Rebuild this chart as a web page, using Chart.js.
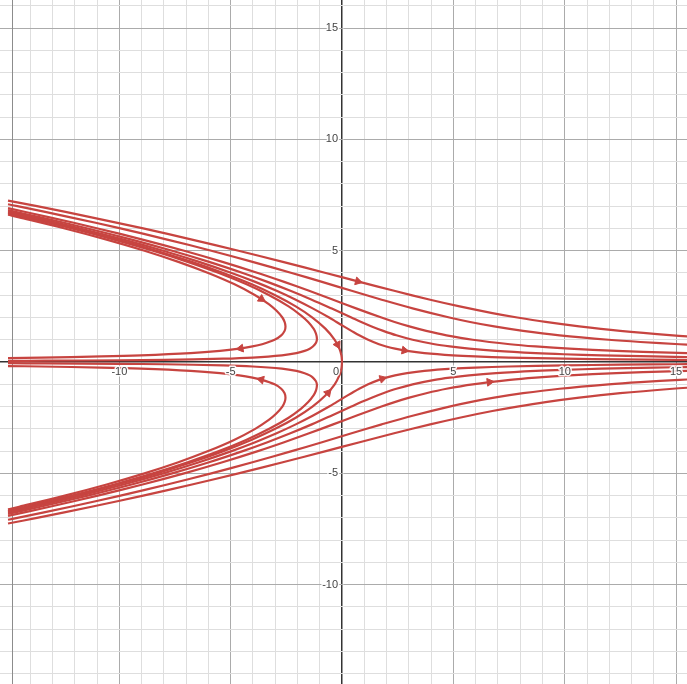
<!DOCTYPE html>
<html>
<head>
<meta charset="utf-8">
<title>Phase portrait</title>
<script src="https://cdn.jsdelivr.net/npm/chart.js@4.4.1/dist/chart.umd.min.js"></script>
<style>
    html, body { margin: 0; padding: 0; background: #fff; }
    #wrap { width: 687px; height: 684px; position: relative; }
</style>
</head>
<body>
<div id="wrap"><canvas id="phaseChart"></canvas></div>
<script>
'use strict';

// tick labels shown along the axes
var xTickLabels = [-10, -5, 0, 5, 10, 15];
var yTickLabels = [15, 10, 5, -5, -10];

// trajectories above the x axis that leave to the right, [x, y]
var upperRight1 = [[16.32,1.1],[14.85,1.2],[12.49,1.4],[10.65,1.6],[9.14,1.8],[7.87,2.0],[6.75,2.2],[5.28,2.5],[3.96,2.8],[2.34,3.2],[0.79,3.6],[-0.73,4.0],[-2.66,4.5],[-4.65,5.0],[-6.74,5.5],[-8.93,6.0],[-11.25,6.5],[-13.70,7.0],[-15,7.25]];
var upperRight2 = [[16.21,0.75],[15.16,0.8],[13.40,0.9],[11.97,1.0],[9.77,1.2],[8.13,1.4],[6.83,1.6],[5.75,1.8],[4.82,2.0],[3.21,2.4],[1.78,2.8],[0.43,3.2],[-0.90,3.6],[-2.26,4.0],[-4.02,4.5],[-5.87,5.0],[-7.85,5.5],[-9.95,6.0],[-12.19,6.5],[-14.58,7.0],[-15,7.085]];
var upperRight3 = [[16.27,0.38],[14.70,0.42],[12.32,0.5],[10.21,0.6],[8.69,0.7],[7.54,0.8],[5.87,1.0],[4.69,1.2],[3.78,1.4],[3.02,1.6],[2.36,1.8],[1.77,2.0],[0.66,2.4],[-0.40,2.8],[-1.48,3.2],[-2.60,3.6],[-3.78,4.0],[-5.37,4.5],[-7.09,5.0],[-8.96,5.5],[-10.97,6.0],[-13.13,6.5],[-15,6.91]];
var upperRight4 = [[15.89,0.22],[13.98,0.25],[11.64,0.3],[9.96,0.35],[8.70,0.4],[6.92,0.5],[5.71,0.6],[4.84,0.7],[4.16,0.8],[3.17,1.0],[2.44,1.2],[1.85,1.4],[1.33,1.6],[0.86,1.8],[0.42,2.0],[-0.46,2.4],[-1.36,2.8],[-2.32,3.2],[-3.35,3.6],[-4.46,4.0],[-5.97,4.5],[-7.63,5.0],[-9.45,5.5],[-11.42,6.0],[-13.55,6.5],[-15,6.82]];
var upperRight5 = [[16.66,0.09],[15.0,0.1],[12.5,0.12],[9.99,0.15],[7.49,0.2],[5.98,0.25],[4.97,0.3],[3.70,0.4],[2.92,0.5],[2.38,0.6],[1.98,0.7],[1.66,0.8],[1.17,1.0],[0.77,1.2],[0.42,1.4],[0.08,1.6],[-0.25,1.8],[-0.58,2.0],[-1.30,2.4],[-2.08,2.8],[-2.94,3.2],[-3.90,3.6],[-4.96,4.0],[-6.42,4.5],[-8.03,5.0],[-9.81,5.5],[-11.75,6.0],[-13.85,6.5],[-15,6.76]];

// trajectories above the x axis that turn back to the left
var upperTurn1 = [[0,0],[-0.03,0.3],[-0.12,0.6],[-0.33,1.0],[-0.75,1.5],[-1.33,2.0],[-2.08,2.5],[-3.0,3.0],[-4.08,3.5],[-5.33,4.0],[-6.75,4.5],[-8.33,5.0],[-10.08,5.5],[-12.0,6.0],[-14.08,6.5],[-15,6.71]];
var upperTurn2 = [[-15,0.053],[-13.33,0.06],[-10.0,0.08],[-8.0,0.1],[-5.34,0.15],[-4.01,0.2],[-2.70,0.3],[-2.05,0.4],[-1.68,0.5],[-1.45,0.6],[-1.31,0.7],[-1.18,0.85],[-1.13,1.0],[-1.14,1.15],[-1.18,1.3],[-1.28,1.5],[-1.52,1.8],[-1.85,2.1],[-2.40,2.5],[-3.27,3.0],[-4.31,3.5],[-5.53,4.0],[-6.93,4.5],[-8.49,5.0],[-10.23,5.5],[-12.13,6.0],[-14.21,6.5],[-15,6.68]];
var upperTurn3 = [[-15,0.18],[-13.51,0.2],[-10.82,0.25],[-9.03,0.3],[-6.80,0.4],[-5.48,0.5],[-4.62,0.6],[-4.02,0.7],[-3.59,0.8],[-3.03,1.0],[-2.73,1.2],[-2.58,1.4],[-2.54,1.6],[-2.58,1.8],[-2.68,2.0],[-2.94,2.3],[-3.29,2.6],[-3.90,3.0],[-4.85,3.5],[-6.01,4.0],[-7.35,4.5],[-8.87,5.0],[-10.57,5.5],[-12.45,6.0],[-14.50,6.5],[-15,6.615]];

// trajectories below the x axis that leave to the right
var lowerRight1 = [[16.32,-1.1],[14.85,-1.2],[12.49,-1.4],[10.65,-1.6],[9.14,-1.8],[7.87,-2.0],[6.75,-2.2],[5.28,-2.5],[3.96,-2.8],[2.34,-3.2],[0.79,-3.6],[-0.73,-4.0],[-2.66,-4.5],[-4.65,-5.0],[-6.74,-5.5],[-8.93,-6.0],[-11.25,-6.5],[-13.70,-7.0],[-15,-7.25]];
var lowerRight2 = [[16.21,-0.75],[15.16,-0.8],[13.40,-0.9],[11.97,-1.0],[9.77,-1.2],[8.13,-1.4],[6.83,-1.6],[5.75,-1.8],[4.82,-2.0],[3.21,-2.4],[1.78,-2.8],[0.43,-3.2],[-0.90,-3.6],[-2.26,-4.0],[-4.02,-4.5],[-5.87,-5.0],[-7.85,-5.5],[-9.95,-6.0],[-12.19,-6.5],[-14.58,-7.0],[-15,-7.085]];
var lowerRight3 = [[16.27,-0.38],[14.70,-0.42],[12.32,-0.5],[10.21,-0.6],[8.69,-0.7],[7.54,-0.8],[5.87,-1.0],[4.69,-1.2],[3.78,-1.4],[3.02,-1.6],[2.36,-1.8],[1.77,-2.0],[0.66,-2.4],[-0.40,-2.8],[-1.48,-3.2],[-2.60,-3.6],[-3.78,-4.0],[-5.37,-4.5],[-7.09,-5.0],[-8.96,-5.5],[-10.97,-6.0],[-13.13,-6.5],[-15,-6.91]];
var lowerRight4 = [[15.89,-0.22],[13.98,-0.25],[11.64,-0.3],[9.96,-0.35],[8.70,-0.4],[6.92,-0.5],[5.71,-0.6],[4.84,-0.7],[4.16,-0.8],[3.17,-1.0],[2.44,-1.2],[1.85,-1.4],[1.33,-1.6],[0.86,-1.8],[0.42,-2.0],[-0.46,-2.4],[-1.36,-2.8],[-2.32,-3.2],[-3.35,-3.6],[-4.46,-4.0],[-5.97,-4.5],[-7.63,-5.0],[-9.45,-5.5],[-11.42,-6.0],[-13.55,-6.5],[-15,-6.82]];
var lowerRight5 = [[16.66,-0.09],[15.0,-0.1],[12.5,-0.12],[9.99,-0.15],[7.49,-0.2],[5.98,-0.25],[4.97,-0.3],[3.70,-0.4],[2.92,-0.5],[2.38,-0.6],[1.98,-0.7],[1.66,-0.8],[1.17,-1.0],[0.77,-1.2],[0.42,-1.4],[0.08,-1.6],[-0.25,-1.8],[-0.58,-2.0],[-1.30,-2.4],[-2.08,-2.8],[-2.94,-3.2],[-3.90,-3.6],[-4.96,-4.0],[-6.42,-4.5],[-8.03,-5.0],[-9.81,-5.5],[-11.75,-6.0],[-13.85,-6.5],[-15,-6.76]];

// trajectories below the x axis that turn back to the left
var lowerTurn1 = [[0,0],[-0.03,-0.3],[-0.12,-0.6],[-0.33,-1.0],[-0.75,-1.5],[-1.33,-2.0],[-2.08,-2.5],[-3.0,-3.0],[-4.08,-3.5],[-5.33,-4.0],[-6.75,-4.5],[-8.33,-5.0],[-10.08,-5.5],[-12.0,-6.0],[-14.08,-6.5],[-15,-6.71]];
var lowerTurn2 = [[-15,-0.053],[-13.33,-0.06],[-10.0,-0.08],[-8.0,-0.1],[-5.34,-0.15],[-4.01,-0.2],[-2.70,-0.3],[-2.05,-0.4],[-1.68,-0.5],[-1.45,-0.6],[-1.31,-0.7],[-1.18,-0.85],[-1.13,-1.0],[-1.14,-1.15],[-1.18,-1.3],[-1.28,-1.5],[-1.52,-1.8],[-1.85,-2.1],[-2.40,-2.5],[-3.27,-3.0],[-4.31,-3.5],[-5.53,-4.0],[-6.93,-4.5],[-8.49,-5.0],[-10.23,-5.5],[-12.13,-6.0],[-14.21,-6.5],[-15,-6.68]];
var lowerTurn3 = [[-15,-0.18],[-13.51,-0.2],[-10.82,-0.25],[-9.03,-0.3],[-6.80,-0.4],[-5.48,-0.5],[-4.62,-0.6],[-4.02,-0.7],[-3.59,-0.8],[-3.03,-1.0],[-2.73,-1.2],[-2.58,-1.4],[-2.54,-1.6],[-2.58,-1.8],[-2.68,-2.0],[-2.94,-2.3],[-3.29,-2.6],[-3.90,-3.0],[-4.85,-3.5],[-6.01,-4.0],[-7.35,-4.5],[-8.87,-5.0],[-10.57,-5.5],[-12.45,-6.0],[-14.50,-6.5],[-15,-6.615]];

// direction arrows: [x, y, dx, dy]
var arrowMarks = [
    [0.71, 3.62, 3.81, -1],
    [2.8, 0.52, 5.9, -1],
    [-0.2, 0.78, 0.52, -1],
    [-3.62, 2.83, 1.55, -1],
    [-4.55, 0.61, -6.38, -1],
    [-3.63, -0.79, -4.16, 1],
    [-0.63, -1.38, 0.88, 1],
    [1.81, -0.75, 3.38, 1],
    [6.62, -0.9, 8.25, 1]
];

// dark frame line near the left edge of the graph paper
var frameEdgeX = -14.81;

var curveRed = '#c74440';
var minorGrid = '#dedede';
var majorGrid = '#ababab';
var axisColor = '#333333';

var allCurves = [
    upperRight1, upperRight2, upperRight3, upperRight4, upperRight5,
    upperTurn1, upperTurn2, upperTurn3,
    lowerRight1, lowerRight2, lowerRight3, lowerRight4, lowerRight5,
    lowerTurn1, lowerTurn2, lowerTurn3
];

function toPoints(arr) {
    return arr.map(function (p) { return {x: p[0], y: p[1]}; });
}

var datasets = allCurves.map(function (c) {
    return {
        data: toPoints(c),
        showLine: true,
        borderColor: curveRed,
        borderWidth: 2.2,
        tension: 0.35,
        pointRadius: 0,
        fill: false
    };
});

datasets.push({
    data: toPoints(arrowMarks),
    showLine: false,
    pointStyle: 'triangle',
    pointRadius: 4.5,
    backgroundColor: curveRed,
    borderColor: curveRed,
    borderWidth: 1,
    rotation: function (c) {
        var a = arrowMarks[c.dataIndex];
        var xs = c.chart.scales.x, ys = c.chart.scales.y;
        if (!a || !xs || !ys) { return 0; }
        var dxp = xs.getPixelForValue(a[0] + a[2] * 0.1) - xs.getPixelForValue(a[0]);
        var dyp = ys.getPixelForValue(a[1] + a[3] * 0.1) - ys.getPixelForValue(a[1]);
        return Math.atan2(dxp, -dyp) * 180 / Math.PI;
    }
});

function gridColor(c) {
    var v = c.tick.value;
    if (v === 0) { return axisColor; }
    // the x = -15 line is replaced by the frame edge
    if (c.scale.axis === 'x' && v === -15) { return 'rgba(0,0,0,0)'; }
    return v % 5 === 0 ? majorGrid : minorGrid;
}
function gridWidth(c) {
    return c.tick.value === 0 ? 1.5 : 1;
}

var axisLabels = {
    id: 'axisLabels',
    beforeDatasetsDraw: function (chart) {
        var ctx = chart.ctx, xs = chart.scales.x;
        var px = Math.round(xs.getPixelForValue(frameEdgeX)) + 0.5;
        ctx.save();
        ctx.strokeStyle = '#8c8c8c';
        ctx.lineWidth = 1;
        ctx.beginPath();
        ctx.moveTo(px, chart.chartArea.top);
        ctx.lineTo(px, chart.chartArea.bottom);
        ctx.stroke();
        ctx.restore();
    },
    afterDatasetsDraw: function (chart) {
        var ctx = chart.ctx, xs = chart.scales.x, ys = chart.scales.y;
        var x0 = xs.getPixelForValue(0), y0 = ys.getPixelForValue(0);
        ctx.save();
        ctx.font = '11px "Liberation Sans", Arial, sans-serif';
        ctx.fillStyle = '#444';
        ctx.strokeStyle = 'rgba(255,255,255,0.9)';
        ctx.lineWidth = 3;
        ctx.lineJoin = 'round';
        ctx.textBaseline = 'top';
        xTickLabels.forEach(function (v) {
            var px = xs.getPixelForValue(v);
            ctx.textAlign = 'center';
            if (v === 0) { ctx.textAlign = 'right'; px = x0 - 3; }
            ctx.strokeText(String(v), px, y0 + 4);
            ctx.fillText(String(v), px, y0 + 4);
        });
        ctx.textAlign = 'right';
        ctx.textBaseline = 'middle';
        yTickLabels.forEach(function (v) {
            var py = ys.getPixelForValue(v);
            ctx.strokeText(String(v), x0 - 4, py);
            ctx.fillText(String(v), x0 - 4, py);
        });
        ctx.restore();
    }
};

var phaseChart = new Chart(document.getElementById('phaseChart'), {
    type: 'scatter',
    data: { datasets: datasets },
    options: {
        responsive: true,
        maintainAspectRatio: false,
        animation: false,
        events: [],
        layout: { padding: 0, autoPadding: false },
        plugins: { legend: { display: false }, tooltip: { enabled: false } },
        scales: {
            x: {
                type: 'linear',
                min: -15.36,
                max: 15.49,
                ticks: { display: false, stepSize: 1, includeBounds: false, maxTicksLimit: 100 },
                grid: { color: gridColor, lineWidth: gridWidth, drawTicks: false },
                border: { display: false }
            },
            y: {
                type: 'linear',
                min: -14.46,
                max: 16.26,
                ticks: { display: false, stepSize: 1, includeBounds: false, maxTicksLimit: 100 },
                grid: { color: gridColor, lineWidth: gridWidth, drawTicks: false },
                border: { display: false }
            }
        }
    },
    plugins: [axisLabels]
});
</script>
</body>
</html>
